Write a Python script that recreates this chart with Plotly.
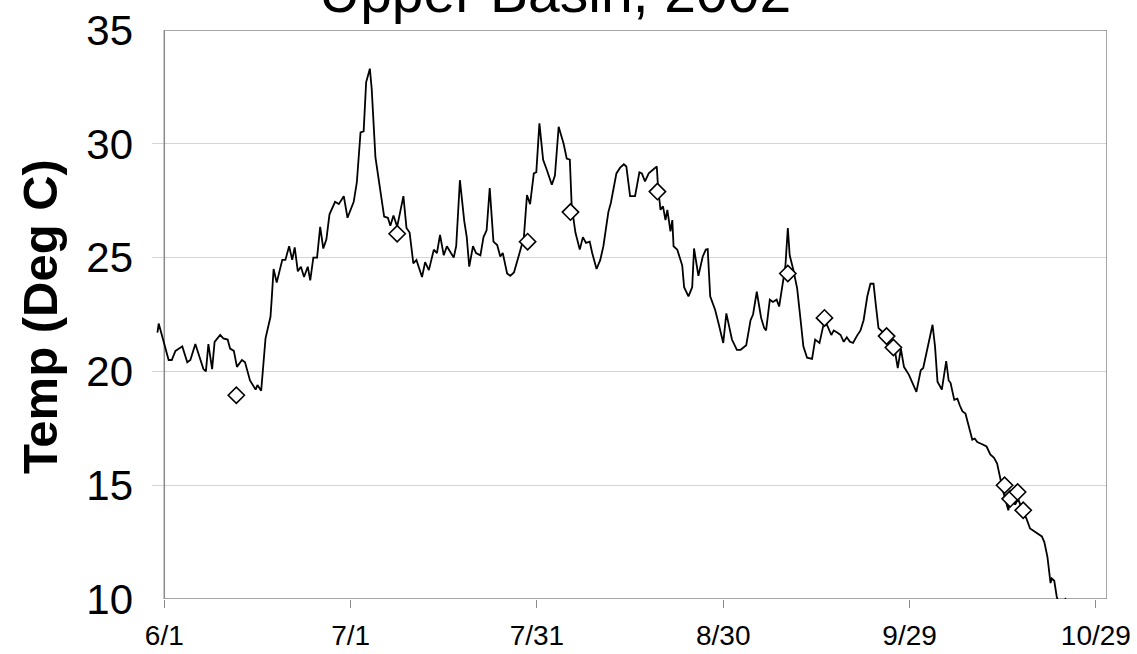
import pandas as pd
import plotly.graph_objects as go

# Continuous water temperature record, Upper Basin 2002 (days after June 1)
line_days = [-1.1, -0.9, 0.7, 1.2, 1.8, 2.9, 3.7, 4.2, 5.0, 6.3, 6.7, 7.1, 7.7, 8.1, 9.0, 9.5,
             10.2, 10.6, 11.2, 11.7, 12.5, 13.0, 13.8, 14.7, 15.0, 15.6, 16.3, 17.1, 17.3, 17.6,
             18.1, 19.0, 19.5, 20.1, 20.6, 21.0, 21.5, 22.0, 22.5, 23.1, 23.5, 24.0, 24.6, 25.1,
             25.6, 26.1, 26.6, 27.5, 28.1, 28.9, 29.5, 30.5, 31.0, 31.6, 32.1, 32.5, 33.1, 33.4,
             34.0, 34.7, 35.4, 36.0, 36.4, 36.9, 37.5, 38.5, 39.0, 39.5, 40.1, 40.6, 41.5, 42.0,
             42.6, 43.4, 43.9, 44.4, 45.0, 45.5, 46.6, 47.0, 47.6, 48.3, 48.7, 49.1, 49.7, 50.2,
             50.9, 51.4, 51.9, 52.4, 53.0, 53.6, 54.1, 54.5, 55.2, 55.7, 56.3, 57.1, 57.9, 58.4,
             58.9, 59.5, 59.9, 60.4, 61.0, 61.6, 62.4, 62.9, 63.5, 64.3, 64.8, 65.3, 65.6, 66.2,
             66.9, 67.4, 67.9, 68.5, 68.9, 69.6, 70.2, 70.7, 71.5, 71.9, 72.8, 73.4, 74.0, 74.4,
             75.0, 75.8, 76.5, 76.9, 77.4, 78.0, 78.7, 79.3, 79.5, 79.9, 80.3, 80.7, 81.0, 81.5,
             81.8, 82.0, 82.6, 83.4, 83.7, 84.4, 85.0, 85.3, 86.0, 86.7, 87.2, 87.5, 87.9, 88.7,
             89.3, 90.0, 90.5, 91.4, 92.2, 92.8, 93.7, 94.4, 94.8, 95.4, 96.1, 96.6, 96.9, 97.5,
             98.0, 98.6, 99.0, 99.5, 100.0, 100.4, 100.7, 101.3, 101.9, 102.4, 102.9, 103.5,
             104.3, 104.8, 105.5, 106.1, 106.7, 107.4, 107.8, 108.4, 108.9, 109.4, 109.9, 110.4,
             110.9, 111.5, 112.1, 112.6, 113.2, 113.7, 114.2, 114.6, 115.0, 115.6, 116.3, 117.0,
             117.7, 118.1, 118.6, 119.1, 119.9, 121.1, 121.8, 122.2, 123.0, 123.7, 124.1, 124.5,
             125.2, 125.9, 126.3, 126.6, 127.2, 127.7, 128.1, 128.5, 129.0, 129.5, 130.1, 130.5,
             130.9, 131.7, 132.4, 133.0, 133.6, 134.1, 134.6, 135.0, 135.9, 136.4, 137.0, 137.5,
             138.2, 138.8, 139.4, 140.5, 141.3, 141.7, 142.2, 142.7, 142.9, 143.3, 143.7, 144.1,
             145.1, 145.4]
line_temp = [21.7, 22.1, 20.5, 20.5, 20.9, 21.1, 20.4, 20.5, 21.2, 20.1, 20.0, 21.2, 20.1, 21.3, 21.6, 21.45,
             21.4, 21.0, 20.9, 20.2, 20.5, 20.4, 19.6, 19.2, 19.4, 19.15, 21.45, 22.4, 23.2, 24.5,
             23.9, 24.9, 24.9, 25.5, 24.9, 25.45, 24.4, 24.6, 24.15, 24.6, 24.0, 25.0, 25.0, 26.35,
             25.4, 25.8, 26.9, 27.45, 27.35, 27.7, 26.75, 27.45, 28.3, 30.5, 30.55, 32.7, 33.3, 32.4,
             29.4, 28.1, 26.8, 26.75, 26.4, 26.85, 26.36, 27.7, 26.3, 26.1, 24.75, 24.9, 24.15, 24.8,
             24.45, 25.35, 25.2, 26.0, 25.1, 25.5, 25.0, 25.5, 28.4, 26.6, 25.9, 24.6, 25.5, 25.2,
             25.1, 25.9, 26.2, 28.05, 25.7, 25.55, 25.05, 25.2, 24.3, 24.2, 24.35, 25.1, 25.9, 27.75,
             27.35, 28.7, 28.75, 30.9, 29.3, 28.85, 28.2, 28.6, 30.75, 30.0, 29.35, 29.3, 27.25, 26.1,
             25.35, 25.9, 25.65, 25.7, 25.2, 24.5, 24.9, 25.5, 27.0, 27.4, 28.7, 28.95, 29.1, 29.0,
             27.7, 27.7, 28.75, 28.7, 28.35, 28.7, 28.85, 29.0, 28.1, 27.1, 27.25, 26.65, 27.1, 26.15,
             26.65, 25.5, 25.35, 24.65, 23.7, 23.3, 23.7, 25.4, 24.2, 25.05, 25.35, 25.37, 23.3, 22.7,
             22.05, 21.25, 22.55, 21.4, 20.95, 20.95, 21.15, 22.25, 22.5, 23.5, 22.35, 21.9, 21.8, 23.15,
             23.05, 23.15, 22.85, 23.65, 24.6, 26.3, 25.1, 24.45, 23.65, 22.4, 21.1, 20.6,
             20.55, 21.4, 21.25, 22.0, 22.05, 21.6, 21.8, 21.7, 21.6, 21.3, 21.5, 21.3,
             21.25, 21.55, 21.8, 22.25, 23.3, 23.85, 23.85, 22.85, 21.9, 21.75, 21.35, 21.05,
             20.8, 20.14, 21.0, 20.2, 19.85, 19.1, 20.05, 20.15, 21.25, 22.05, 21.1, 19.55,
             19.2, 20.45, 19.6, 19.5, 18.75, 18.8, 18.5, 18.25, 18.15, 17.65, 17.0, 17.05,
             16.9, 16.8, 16.7, 16.35, 16.2, 15.95, 15.3, 14.8, 13.9, 14.5, 14.15, 14.4,
             13.85, 13.55, 13.1, 12.9, 12.75, 12.5, 11.85, 10.7, 10.9, 10.8, 10.1, 9.75,
             10.0, 9.8]

# Discrete grab-sample temperatures
sample_days = [11.6, 37.5, 58.5, 65.4, 79.4, 100.4, 106.3, 116.3, 117.4, 135.3, 136.2, 137.4, 138.3]
sample_temp = [18.95, 26.05, 25.7, 27.0, 27.9, 24.3, 22.35, 21.55, 21.05, 15.0, 14.4, 14.7, 13.9]

tick_dates = ["2002-06-01", "2002-07-01", "2002-07-31", "2002-08-30", "2002-09-29", "2002-10-29"]
tick_labels = ["6/1", "7/1", "7/31", "8/30", "9/29", "10/29"]
y_ticks = [10, 15, 20, 25, 30, 35]

base = pd.Timestamp("2002-06-01")
line_x = base + pd.to_timedelta(line_days, unit="D")
sample_x = base + pd.to_timedelta(sample_days, unit="D")

x_start = "2002-05-30 00:30"
x_end = "2002-10-30 19:00"
axis_origin = tick_dates[0]

FONT = "Arial, Liberation Sans, sans-serif"
FRAME = "#8a8a8a"
GRID = "#d4d4d4"

fig = go.Figure()
fig.add_trace(go.Scatter(x=line_x, y=line_temp, mode="lines",
                         line=dict(color="black", width=1.8), showlegend=False))
fig.add_trace(go.Scatter(x=sample_x, y=sample_temp, mode="markers",
                         marker=dict(symbol="diamond", size=12.5, color="white",
                                     line=dict(color="black", width=1.6)),
                         showlegend=False))

# plot frame: axis lines start at June 1, gridlines run past it as tick marks
frame = [
    (axis_origin, 10, axis_origin, 35),
    (x_end, 10, x_end, 35),
    (axis_origin, 35, x_end, 35),
    (axis_origin, 10, x_end, 10),
]
for x0, y0, x1, y1 in frame:
    fig.add_shape(type="line", xref="x", yref="y", x0=x0, y0=y0, x1=x1, y1=y1,
                  line=dict(color=FRAME, width=1.5), layer="between")

fig.update_layout(
    width=1137, height=654,
    margin=dict(l=152, r=30, t=30, b=55, autoexpand=False),
    paper_bgcolor="white", plot_bgcolor="white",
    font=dict(family=FONT, color="black"),
    xaxis=dict(type="date", range=[x_start, x_end], tickmode="array",
               tickvals=tick_dates, ticktext=tick_labels, automargin=False,
               ticks="outside", ticklen=8, tickwidth=1.3, tickcolor=FRAME,
               tickfont=dict(size=28, family=FONT), ticklabelstandoff=3,
               showgrid=False, showline=False, zeroline=False),
    yaxis=dict(range=[10, 35], tickmode="array", tickvals=y_ticks, automargin=False,
               ticks="", tickfont=dict(size=42, family=FONT), ticklabelstandoff=18,
               showgrid=True, gridcolor=GRID, gridwidth=1.3,
               showline=False, zeroline=False),
    annotations=[
        dict(text="<b>Temp (Deg C)</b>", textangle=-90, xref="paper", yref="paper",
             x=-0.1173, y=0.4974, xanchor="center", yanchor="middle", showarrow=False,
             font=dict(size=49, family=FONT, color="black")),
        dict(text="Upper Basin, 2002", xref="paper", yref="paper",
             x=0.4225, y=1.007, xanchor="center", yanchor="bottom", showarrow=False,
             font=dict(size=57, family=FONT, color="black")),
    ],
)

fig.write_html("out.html")
